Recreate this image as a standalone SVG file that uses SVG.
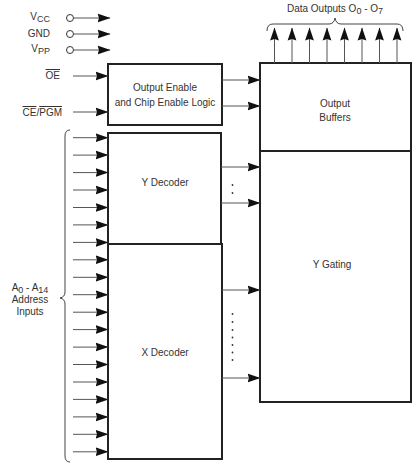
<svg xmlns="http://www.w3.org/2000/svg" width="420" height="469" viewBox="0 0 420 469">
<defs>
<marker id="ah" markerUnits="userSpaceOnUse" markerWidth="14" markerHeight="10" refX="12.5" refY="5" orient="auto">
<polygon points="0,0.6 13,5 0,9.4 1.5,5" fill="#111"/>
</marker>
</defs>
<style>
text{font-family:"Liberation Sans",Arial,sans-serif;font-size:10px;fill:#333}
.s{font-size:9px}
.box{fill:#fff;stroke:#222;stroke-width:2}
.ar{stroke:#555;stroke-width:1;fill:none;marker-end:url(#ah)}
.br{stroke:#444;stroke-width:1;fill:none}
.m{text-anchor:middle}
.e{text-anchor:end}
</style>
<rect width="420" height="469" fill="#fff"/>

<g id="power-labels">
<text class="e" x="50" y="20">V<tspan class="s" dy="2">CC</tspan></text>
<text class="e" x="50" y="37">GND</text>
<text class="e" x="50" y="52">V<tspan class="s" dy="2">PP</tspan></text>
<circle cx="70" cy="18" r="3.5" fill="#fff" stroke="#333"/>
<circle cx="70" cy="34" r="3.5" fill="#fff" stroke="#333"/>
<circle cx="70" cy="50" r="3.5" fill="#fff" stroke="#333"/>
</g>

<g id="control-labels">
<text class="e" x="60" y="79" text-decoration="overline">OE</text>
<text class="e" x="62" y="116"><tspan text-decoration="overline">CE</tspan>/<tspan text-decoration="overline">PGM</tspan></text>
</g>

<g id="oe-logic">
<rect class="box" x="108" y="64" width="114" height="61"/>
<text class="m" x="165" y="91">Output Enable</text>
<text class="m" x="165" y="106">and Chip Enable Logic</text>
</g>

<g id="output-buffers">
<rect class="box" x="260" y="63" width="151" height="88"/>
<text class="m" x="335" y="107">Output</text>
<text class="m" x="335" y="121">Buffers</text>
</g>

<g id="y-gating">
<rect class="box" x="260" y="151" width="151" height="251"/>
<text class="m" x="332" y="268">Y Gating</text>
</g>

<g id="y-decoder">
<rect class="box" x="108" y="133" width="113" height="111"/>
<text class="m" x="165" y="186">Y Decoder</text>
</g>

<g id="x-decoder">
<rect class="box" x="108" y="244" width="114" height="215"/>
<text class="m" x="165" y="356">X Decoder</text>
</g>

<g id="address-label">
<text class="m" x="30" y="291">A<tspan class="s" dy="2">0</tspan><tspan dy="-2"> - A</tspan><tspan class="s" dy="2">14</tspan></text>
<text class="m" x="30" y="303">Address</text>
<text class="m" x="30" y="315">Inputs</text>
</g>

<g id="data-label">
<text class="m" x="335" y="12">Data Outputs O<tspan class="s" dy="2">0</tspan><tspan dy="-2">  -  O</tspan><tspan class="s" dy="2">7</tspan></text>
</g>

<g id="connectors">
<line class="ar" x1="74" y1="18" x2="110" y2="18"/>
<line class="ar" x1="74" y1="34" x2="110" y2="34"/>
<line class="ar" x1="74" y1="50" x2="110" y2="50"/>
<line class="ar" x1="73" y1="76" x2="108" y2="76"/>
<line class="ar" x1="73" y1="112" x2="108" y2="112"/>
<line class="ar" x1="222" y1="80" x2="260" y2="80"/>
<line class="ar" x1="222" y1="106" x2="260" y2="106"/>
<line class="ar" x1="221" y1="167" x2="260" y2="167"/>
<line class="ar" x1="221" y1="203" x2="260" y2="203"/>
<line class="ar" x1="222" y1="290" x2="260" y2="290"/>
<line class="ar" x1="222" y1="378" x2="260" y2="378"/>
<g fill="#333">
<circle cx="232.5" cy="185" r="0.9"/><circle cx="232.5" cy="193" r="0.9"/>
<circle cx="232.5" cy="314" r="0.9"/><circle cx="232.5" cy="322" r="0.9"/><circle cx="232.5" cy="330" r="0.9"/><circle cx="232.5" cy="337.5" r="0.9"/><circle cx="232.5" cy="345" r="0.9"/><circle cx="232.5" cy="352.5" r="0.9"/><circle cx="232.5" cy="360" r="0.9"/>
</g>
<g>
<line class="ar" x1="274.5" y1="63" x2="274.5" y2="28"/>
<line class="ar" x1="292" y1="63" x2="292" y2="28"/>
<line class="ar" x1="309.5" y1="63" x2="309.5" y2="28"/>
<line class="ar" x1="327" y1="63" x2="327" y2="28"/>
<line class="ar" x1="344.5" y1="63" x2="344.5" y2="28"/>
<line class="ar" x1="362" y1="63" x2="362" y2="28"/>
<line class="ar" x1="379.5" y1="63" x2="379.5" y2="28"/>
<line class="ar" x1="397" y1="63" x2="397" y2="28"/>
</g>
<g>
<line class="ar" x1="73" y1="137.7" x2="108" y2="137.7"/>
<line class="ar" x1="73" y1="155.1" x2="108" y2="155.1"/>
<line class="ar" x1="73" y1="172.6" x2="108" y2="172.6"/>
<line class="ar" x1="73" y1="190" x2="108" y2="190"/>
<line class="ar" x1="73" y1="207.5" x2="108" y2="207.5"/>
<line class="ar" x1="73" y1="224.9" x2="108" y2="224.9"/>
<line class="ar" x1="73" y1="242.4" x2="108" y2="242.4"/>
<line class="ar" x1="73" y1="259.8" x2="108" y2="259.8"/>
<line class="ar" x1="73" y1="277.3" x2="108" y2="277.3"/>
<line class="ar" x1="73" y1="294.7" x2="108" y2="294.7"/>
<line class="ar" x1="73" y1="312.2" x2="108" y2="312.2"/>
<line class="ar" x1="73" y1="329.6" x2="108" y2="329.6"/>
<line class="ar" x1="73" y1="347.1" x2="108" y2="347.1"/>
<line class="ar" x1="73" y1="364.5" x2="108" y2="364.5"/>
<line class="ar" x1="73" y1="382" x2="108" y2="382"/>
<line class="ar" x1="73" y1="399.4" x2="108" y2="399.4"/>
<line class="ar" x1="73" y1="416.9" x2="108" y2="416.9"/>
<line class="ar" x1="73" y1="434.3" x2="108" y2="434.3"/>
<line class="ar" x1="73" y1="451.8" x2="108" y2="451.8"/>
</g>
<path class="br" d="M70,130 Q65,130 65,136 L65,292 Q65,297 60,298 Q65,299 65,304 L65,456 Q65,462 70,462"/>
<path class="br" d="M267,31 Q267,24 273,24 L329,24 Q334,24 335,18 Q336,24 341,24 L397,24 Q403,24 403,31"/>
</g>
</svg>
